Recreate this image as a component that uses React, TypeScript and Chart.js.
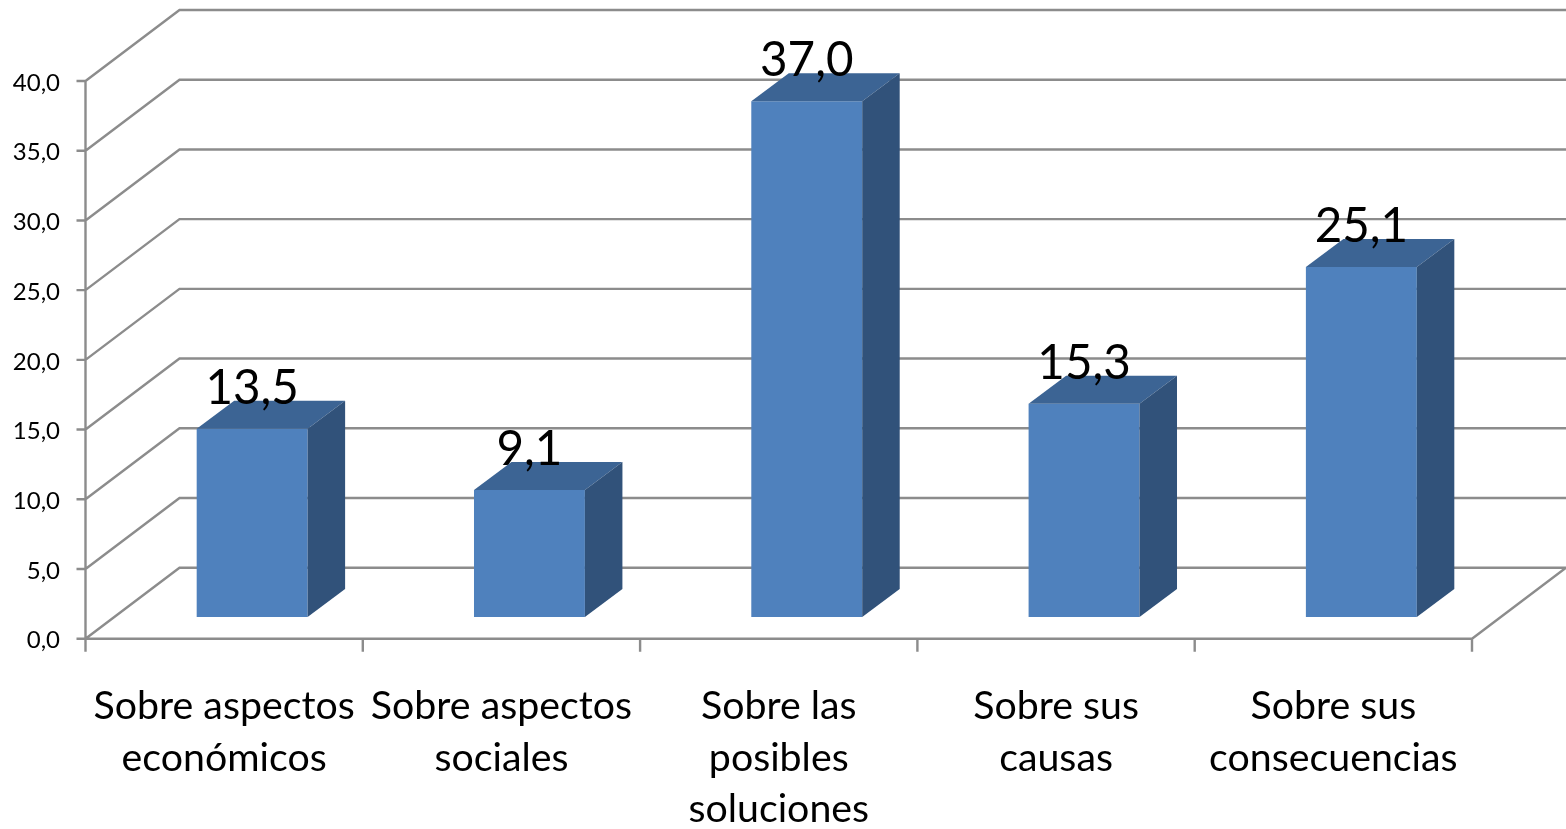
import React, { useEffect, useRef } from "react";
import { Chart, registerables } from "chart.js";

Chart.register(...registerables);

const categories = [
  ["Sobre aspectos", "económicos"],
  ["Sobre aspectos", "sociales"],
  ["Sobre las", "posibles", "soluciones"],
  ["Sobre sus", "causas"],
  ["Sobre sus", "consecuencias"],
];
const values = [13.5, 9.1, 37.0, 15.3, 25.1];
const valueLabels = ["13,5", "9,1", "37,0", "15,3", "25,1"];

const FONT = "Lato, Carlito, 'Open Sans', sans-serif";
const GRID = "#8c8c8c";
const WALL_DX = 94;
const WALL_DY = -71;
const BAR_DX = 28;
const BAR_DY = -21.7;
const SIDE_DX = 37.5;
const SIDE_DY = -28;

const fmt = (v: number) => v.toFixed(1).replace(".", ",");

const walls = {
  id: "walls",
  beforeDraw(chart: any) {
    // nudge the value labels down so they sit level with their grid lines
    for (const item of chart.scales.y.getLabelItems()) item.textOffset += 2;
  },
  beforeDatasetsDraw(chart: any) {
    const { ctx, scales } = chart;
    const x = scales.x;
    const y = scales.y;
    const l = x.left, r = x.right;
    const y0 = y.getPixelForValue(0);
    ctx.save();
    ctx.strokeStyle = GRID;
    ctx.lineWidth = 2.4;
    ctx.beginPath();
    for (const t of y.ticks) {
      const py = y.getPixelForValue(t.value);
      ctx.moveTo(l, py);
      ctx.lineTo(l + WALL_DX, py + WALL_DY);
      ctx.lineTo(r + WALL_DX, py + WALL_DY);
      ctx.moveTo(l - 9, py);
      ctx.lineTo(l, py);
    }
    // floor front and right edges
    ctx.moveTo(l, y0);
    ctx.lineTo(r, y0);
    ctx.lineTo(r + WALL_DX, y0 + WALL_DY);
    // left axis
    ctx.moveTo(l, y.getPixelForValue(40));
    ctx.lineTo(l, y0);
    // category ticks
    for (let i = 0; i <= categories.length; i++) {
      const px = l + ((r - l) * i) / categories.length;
      ctx.moveTo(px, y0);
      ctx.lineTo(px, y0 + 13);
    }
    ctx.stroke();
    ctx.restore();
    // bars are drawn by Chart.js, shifted onto the floor's depth
    ctx.save();
    ctx.translate(BAR_DX, BAR_DY);
  },
  afterDatasetsDraw(chart: any) {
    const { ctx } = chart;
    const meta = chart.getDatasetMeta(0);
    meta.data.forEach((bar: any) => {
      const left = bar.x - bar.width / 2;
      const right = bar.x + bar.width / 2;
      const top = bar.y;
      const base = bar.base;
      ctx.fillStyle = "#3c6494";
      ctx.beginPath();
      ctx.moveTo(left, top);
      ctx.lineTo(left + SIDE_DX, top + SIDE_DY);
      ctx.lineTo(right + SIDE_DX, top + SIDE_DY);
      ctx.lineTo(right, top);
      ctx.closePath();
      ctx.fill();
      ctx.fillStyle = "#31527a";
      ctx.beginPath();
      ctx.moveTo(right, top);
      ctx.lineTo(right + SIDE_DX, top + SIDE_DY);
      ctx.lineTo(right + SIDE_DX, base + SIDE_DY);
      ctx.lineTo(right, base);
      ctx.closePath();
      ctx.fill();
    });
    ctx.restore();
    ctx.save();
    ctx.fillStyle = "#000";
    ctx.font = `47.5px ${FONT}`;
    ctx.textAlign = "center";
    ctx.textBaseline = "alphabetic";
    meta.data.forEach((bar: any, i: number) => {
      ctx.fillText(valueLabels[i], bar.x + BAR_DX, bar.y + BAR_DY - 25);
    });
    ctx.restore();
  },
};

export default function App() {
  const ref = useRef<HTMLCanvasElement>(null);
  useEffect(() => {
    document.body.style.margin = "0";
    const chart = new Chart(ref.current!, {
      type: "bar",
      data: {
        labels: categories as any,
        datasets: [
          {
            data: values,
            backgroundColor: "#4f81bd",
            barPercentage: 0.4,
            categoryPercentage: 1,
          },
        ],
      },
      options: {
        animation: false,
        responsive: false,
        layout: { padding: { top: 81, right: 94, left: 0, bottom: 0 } },
        plugins: { legend: { display: false }, tooltip: { enabled: false } },
        scales: {
          x: {
            afterFit(s: any) {
              s.height = 190.3;
            },
            grid: { display: false },
            border: { display: false },
            ticks: {
              color: "#000",
              font: { family: FONT, size: 39.3, lineHeight: 1.3 },
              maxRotation: 0,
              minRotation: 0,
              autoSkip: false,
              padding: 34.5,
              align: "center",
            },
          },
          y: {
            afterFit(s: any) {
              s.width = 85.5;
            },
            min: 0,
            max: 40,
            grid: { display: false },
            border: { display: false },
            ticks: {
              stepSize: 5,
              color: "#000",
              font: { family: FONT, size: 24 },
              padding: 17.5,
              callback: (v: any) => fmt(Number(v)),
            },
          },
        },
      },
      plugins: [walls],
    } as any);
    return () => chart.destroy();
  }, []);
  return (
    <canvas
      ref={ref}
      width={1566}
      height={829}
      style={{ display: "block", width: 1566, height: 829 }}
    />
  );
}
